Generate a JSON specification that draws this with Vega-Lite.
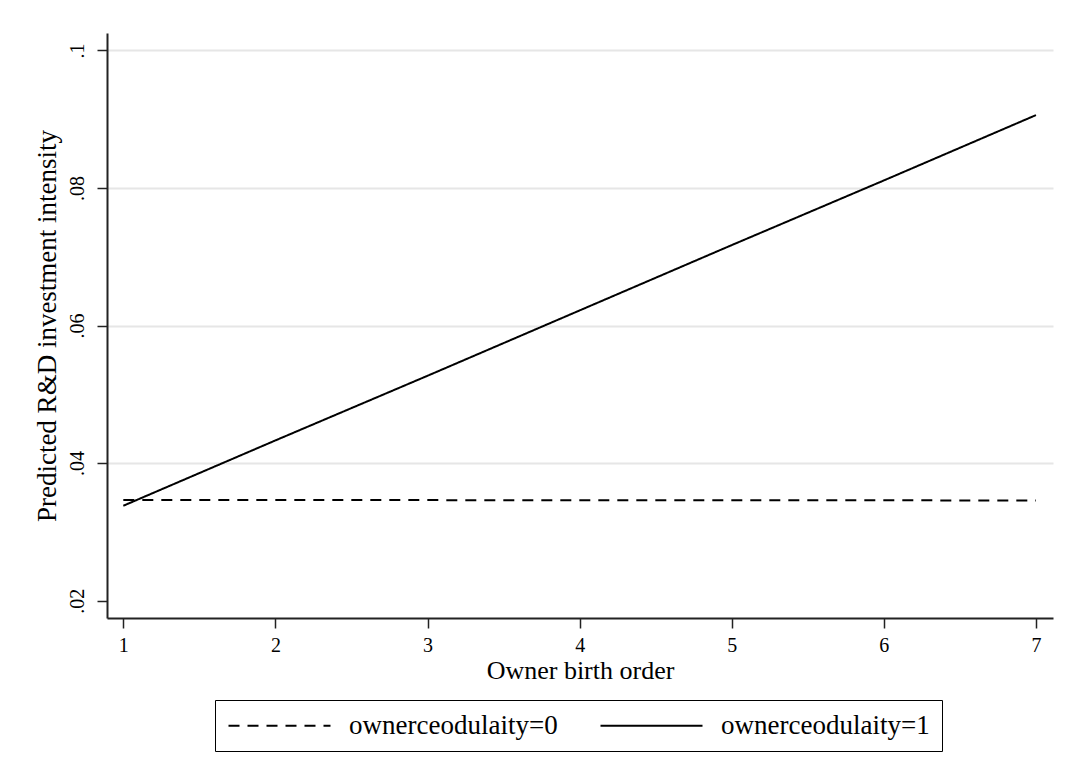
{
  "$schema": "https://vega.github.io/schema/vega-lite/v6.json",
  "width": 946,
  "height": 585,
  "autosize": {"type": "none"},
  "padding": {"left": 107, "top": 33, "right": 17, "bottom": 164},
  "background": "white",
  "config": {
    "font": "Liberation Serif",
    "view": {"stroke": null}
  },
  "data": {
    "values": [
      {"birth_order": 1, "prediction": 0.03464, "group": "ownerceodulaity=0"},
      {"birth_order": 2, "prediction": 0.03463, "group": "ownerceodulaity=0"},
      {"birth_order": 3, "prediction": 0.03462, "group": "ownerceodulaity=0"},
      {"birth_order": 4, "prediction": 0.03461, "group": "ownerceodulaity=0"},
      {"birth_order": 5, "prediction": 0.03460, "group": "ownerceodulaity=0"},
      {"birth_order": 6, "prediction": 0.03459, "group": "ownerceodulaity=0"},
      {"birth_order": 7, "prediction": 0.03457, "group": "ownerceodulaity=0"},
      {"birth_order": 1, "prediction": 0.0338, "group": "ownerceodulaity=1"},
      {"birth_order": 2, "prediction": 0.0433, "group": "ownerceodulaity=1"},
      {"birth_order": 3, "prediction": 0.0527, "group": "ownerceodulaity=1"},
      {"birth_order": 4, "prediction": 0.0622, "group": "ownerceodulaity=1"},
      {"birth_order": 5, "prediction": 0.0717, "group": "ownerceodulaity=1"},
      {"birth_order": 6, "prediction": 0.0811, "group": "ownerceodulaity=1"},
      {"birth_order": 7, "prediction": 0.0906, "group": "ownerceodulaity=1"}
    ]
  },
  "mark": {"type": "line", "strokeWidth": 2, "color": "black"},
  "encoding": {
    "x": {
      "field": "birth_order",
      "type": "quantitative",
      "scale": {"domain": [0.8928, 7.112], "nice": false, "zero": false},
      "axis": {
        "values": [1, 2, 3, 4, 5, 6, 7],
        "format": "d",
        "title": "Owner birth order",
        "grid": false,
        "domainColor": "#222222",
        "domainWidth": 2,
        "tickColor": "#222222",
        "tickWidth": 1.5,
        "tickSize": 10,
        "labelFontSize": 20,
        "labelColor": "black",
        "labelPadding": 7,
        "titleFontSize": 26,
        "titleFontWeight": "normal",
        "titleColor": "black",
        "titlePadding": 2
      }
    },
    "y": {
      "field": "prediction",
      "type": "quantitative",
      "scale": {"domain": [0.01748, 0.10254], "nice": false, "zero": false},
      "axis": {
        "values": [0.02, 0.04, 0.06, 0.08, 0.1],
        "labelExpr": "replace(format(datum.value, '.2~f'), /^0/, '')",
        "title": "Predicted R&D investment intensity",
        "grid": true,
        "gridColor": {"condition": {"test": "datum.value < 0.03", "value": "transparent"}, "value": "#e6e6e6"},
        "gridWidth": 2,
        "domainColor": "#222222",
        "domainWidth": 2,
        "tickColor": "#222222",
        "tickWidth": 1.5,
        "tickSize": 10,
        "labelFontSize": 20,
        "labelColor": "black",
        "labelAngle": 270,
        "labelAlign": "center",
        "labelBaseline": "bottom",
        "labelPadding": 10,
        "titleFontSize": 27,
        "titleFontWeight": "normal",
        "titleColor": "black",
        "titlePadding": 6
      }
    },
    "strokeDash": {
      "field": "group",
      "type": "nominal",
      "scale": {"domain": ["ownerceodulaity=0", "ownerceodulaity=1"], "range": [[11, 8], [1, 0]]},
      "legend": {
        "title": null,
        "orient": "none",
        "legendX": 108,
        "legendY": 667,
        "direction": "horizontal",
        "columns": 2,
        "symbolType": "M-1,0H7.5",
        "symbolSize": 576,
        "symbolStrokeWidth": 2,
        "symbolStrokeColor": "black",
        "labelFontSize": 27,
        "labelColor": "black",
        "labelLimit": 400,
        "labelOffset": 95,
        "columnPadding": 38,
        "padding": 12,
        "strokeColor": "black"
      }
    }
  }
}
